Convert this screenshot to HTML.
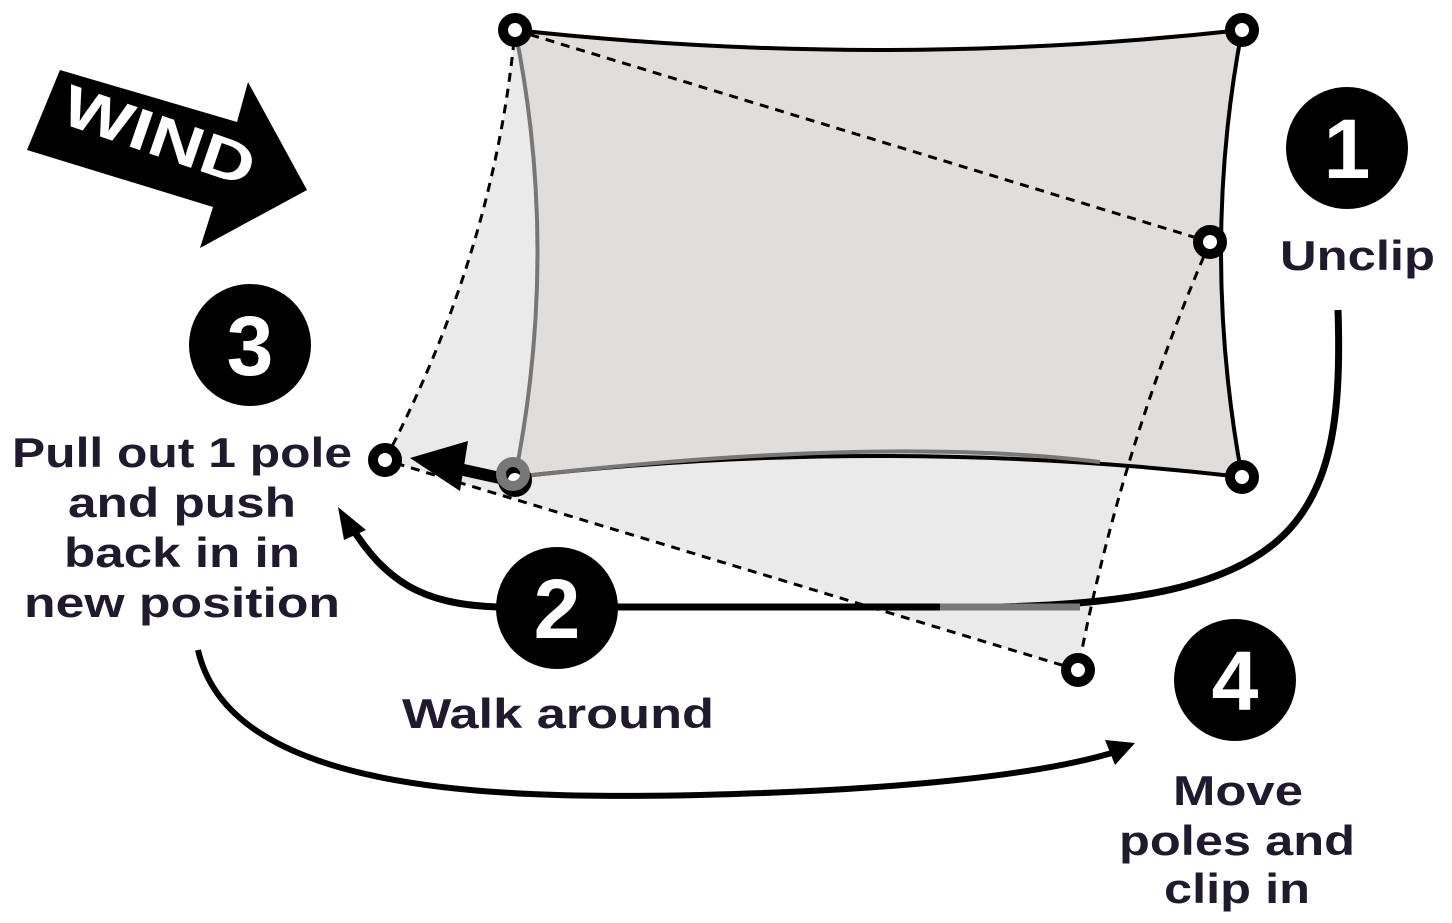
<!DOCTYPE html>
<html><head><meta charset="utf-8"><style>
html,body{margin:0;padding:0;background:#fff;}
svg{display:block}
text{font-family:"Liberation Sans",sans-serif;font-weight:bold;}
</style></head><body>
<svg width="1452" height="923" viewBox="0 0 1452 923" xmlns="http://www.w3.org/2000/svg">
<!-- wind arrow -->
<polygon points="60,70 27,150 213,207 200,248 307,190 248,82 237,122" fill="#000"/>
<text x="0" y="0" transform="translate(58,122) rotate(19)" font-size="58" fill="#fff" textLength="200" lengthAdjust="spacingAndGlyphs">WIND</text>

<!-- light dashed region fill -->
<path d="M515,30 L1210,242 Q1120,450 1078,670 L385,460 Q495,250 515,30 Z" fill="#ebeaea"/>
<!-- main sail -->
<path d="M515,30 Q880,70 1242,30 Q1200,250 1242,477 Q880,435 515,477 Q560,250 515,30 Z" fill="#e0dddd"/>
<path d="M515,30 Q880,70 1242,30 Q1200,250 1242,477 Q880,435 515,477" fill="none" stroke="#000" stroke-width="4"/>
<path d="M515,30 Q560,250 515,477 Q880,435 1100,462" fill="none" stroke="#777" stroke-width="4"/>

<!-- walk around path -->
<path d="M1338,310 C1345,520 1300,600 1000,607 L500,607 C420,605 385,580 350,525" fill="none" stroke="#000" stroke-width="7"/>
<path d="M940,607 L1080,607" stroke="#777" stroke-width="7"/>
<polygon points="338,507 366,530 344,540" fill="#000"/>
<!-- bottom arrow -->
<path d="M198,650 C230,790 480,800 700,795 C900,790 1040,775 1115,752" fill="none" stroke="#000" stroke-width="6"/>
<polygon points="1135,743 1105,740 1115,765" fill="#000"/>

<!-- dashed lines -->
<g fill="none" stroke="#000" stroke-width="3" stroke-dasharray="9,7">
<path d="M515,30 L1210,242"/>
<path d="M1210,242 Q1120,450 1078,670"/>
<path d="M1078,670 L385,460"/>
<path d="M385,460 Q495,250 515,30"/>
</g>

<!-- small arrow -->
<line x1="500" y1="478" x2="450" y2="467" stroke="#000" stroke-width="12"/>
<polygon points="410,458 468,441 460,491" fill="#000"/>

<!-- rings -->
<g fill="#fff" stroke="#000" stroke-width="10">
<circle cx="515" cy="30" r="12"/>
<circle cx="1242" cy="30" r="12"/>
<circle cx="1210" cy="242" r="12"/>
<circle cx="1242" cy="477" r="12"/>
<circle cx="385" cy="460" r="12"/>
<circle cx="1078" cy="670" r="12"/>
<circle cx="515" cy="480" r="12"/>
</g>
<circle cx="513" cy="474" r="12" fill="none" stroke="#777" stroke-width="10"/>

<!-- number circles -->
<g fill="#000">
<circle cx="1347" cy="148" r="61"/>
<circle cx="250" cy="345" r="61"/>
<circle cx="557" cy="608" r="61"/>
<circle cx="1235" cy="680" r="61"/>
</g>
<g fill="#fff" font-size="84" text-anchor="middle">
<text x="1347" y="178">1</text>
<text x="250" y="375">3</text>
<text x="557" y="638">2</text>
<text x="1235" y="710">4</text>
</g>

<!-- labels -->
<g fill="#1f1a2e" font-size="42" lengthAdjust="spacingAndGlyphs">
<text x="1280" y="270" textLength="155" lengthAdjust="spacingAndGlyphs">Unclip</text>
<text x="12" y="467" textLength="340" lengthAdjust="spacingAndGlyphs">Pull out 1 pole</text>
<text x="68" y="517" textLength="228" lengthAdjust="spacingAndGlyphs">and push</text>
<text x="64" y="567" textLength="236" lengthAdjust="spacingAndGlyphs">back in in</text>
<text x="24" y="617" textLength="316" lengthAdjust="spacingAndGlyphs">new position</text>
<text x="402" y="728" textLength="312" lengthAdjust="spacingAndGlyphs">Walk around</text>
<text x="1173" y="805" textLength="130" lengthAdjust="spacingAndGlyphs">Move</text>
<text x="1119" y="855" textLength="236" lengthAdjust="spacingAndGlyphs">poles and</text>
<text x="1164" y="903" textLength="146" lengthAdjust="spacingAndGlyphs">clip in</text>
</g>
</svg>
</body></html>
